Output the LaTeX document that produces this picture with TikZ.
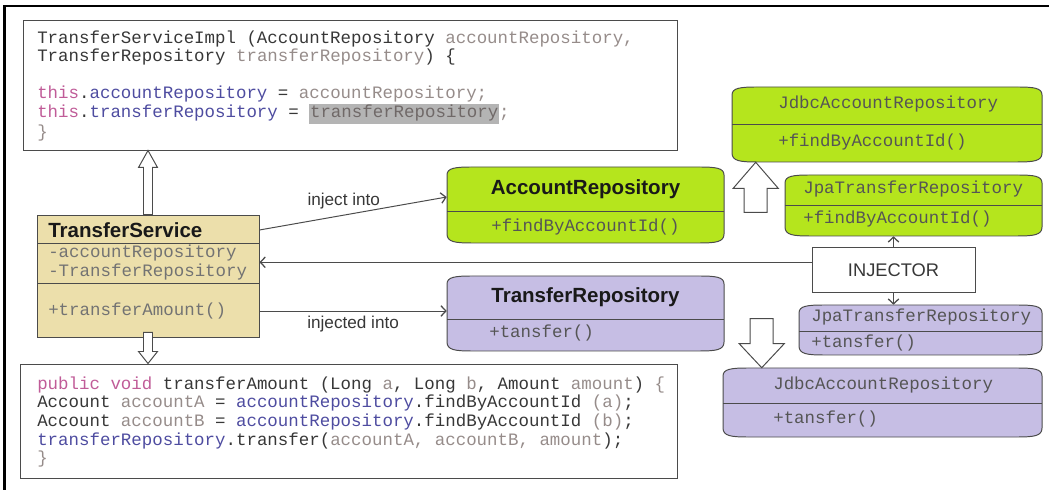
\documentclass[tikz,border=0pt]{standalone}
\usepackage{fontspec}
\setmainfont{Liberation Sans}
\setmonofont{Liberation Mono}
\usepackage{xcolor}
\usetikzlibrary{arrows.meta,positioning,calc,fit}
\definecolor{tanfill}{RGB}{236,223,171}
\definecolor{limefill}{RGB}{181,229,29}
\definecolor{lilacfill}{RGB}{198,190,228}
\definecolor{edge}{RGB}{75,75,75}
\definecolor{codetxt}{RGB}{55,55,55}
\definecolor{boxtxt}{RGB}{85,85,85}
\definecolor{codegray}{RGB}{150,140,138}
\definecolor{codeblue}{RGB}{78,76,160}
\definecolor{codepink}{RGB}{192,92,152}
\definecolor{hlgray}{RGB}{180,180,180}
\newcommand{\kwd}[1]{\textcolor{codepink}{#1}}
\newcommand{\fld}[1]{\textcolor{codeblue}{#1}}
\newcommand{\var}[1]{\textcolor{codegray}{#1}}
\newcommand{\hlt}[1]{{\fboxsep=0.5pt\colorbox{hlgray}{\strut\textcolor{codegray!75!black}{#1}}}}
% class box with bulging ends: name, x1, y1, x2, y2, split y, fill
\newcommand{\repobox}[7]{%
  \draw[edge, line width=0.7pt, fill=#7] (#2,#3+8) .. controls (#2,#3+1) and (#2+8,#3) .. (#2+25,#3)
    -- (#4-25,#3) .. controls (#4-8,#3) and (#4,#3+1) .. (#4,#3+8)
    -- (#4,#5-9) .. controls (#4,#5-1) and (#4-8,#5) .. (#4-25,#5)
    -- (#2+25,#5) .. controls (#2+8,#5) and (#2,#5-1) .. (#2,#5-9) -- cycle;
  \draw[edge, line width=0.7pt] (#2,#6) -- (#4,#6);
  \node[inner sep=0pt, fit={(#2,#3) (#4,#5)}] (#1) {};}
% hollow block arrow: base, tip, shaft half, head half, head length
\newcommand{\fatarrow}[5]{%
  \draw[hollow] ($#1+(-#3,0)$) -- ($#2+(-#3,#5)$) -- ($#2+(-#4,#5)$) -- #2
    -- ($#2+(#4,#5)$) -- ($#2+(#3,#5)$) -- ($#1+(#3,0)$) -- cycle;}

\begin{document}
\begin{tikzpicture}[x=0.025cm, y=-0.025cm,
  conn/.style={draw=edge, line width=0.7pt, -{Straight Barb[length=3.5pt,width=7.5pt,line width=0.9pt]}},
  hollow/.style={draw=edge, fill=white, line width=0.7pt},
  mono/.style={font=\ttfamily\fontsize{12.4}{13.2}\selectfont, text=boxtxt, inner sep=0pt, anchor=west},
  codetext/.style={font=\ttfamily\fontsize{12.4}{13.2}\selectfont, text=codetxt, align=left, inner sep=0pt, anchor=west},
  heading/.style={font=\bfseries\fontsize{14.6}{16}\selectfont, text=black!90, inner sep=0pt},
  lbl/.style={font=\fontsize{12.2}{14}\selectfont, text=codetxt, inner sep=0pt}]
\useasboundingbox (0,0) rectangle (1049,490);
\draw[line width=2pt] (4.5,490) -- (4.5,6) -- (1049,6);

% ---- code of the constructor
\node[draw=edge, line width=0.7pt, fit={(23,20) (677,150)}, inner sep=0pt] (ctor) {};
\node[codetext] (ctor text) at (37,86)
  {TransferServiceImpl (AccountRepository \var{accountRepository,}\\
   TransferRepository \var{transferRepository}) \{\\[13.2pt]
   \kwd{this}.\fld{accountRepository} = \var{accountRepository;}\\
   \kwd{this}.\fld{transferRepository} = \hlt{transferRepository}\var{;}\\
   \var{\}}};

% ---- code of transferAmount
\node[draw=edge, line width=0.7pt, fit={(20,364) (677,478)}, inner sep=0pt] (body) {};
\node[codetext] (body text) at (37,422)
  {\kwd{public void} transferAmount (Long \var{a}, Long \var{b}, Amount \var{amount}) \var{\{}\\
   Account \var{accountA} = \fld{accountRepository}.findByAccountId \var{(a)};\\
   Account \var{accountB} = \fld{accountRepository}.findByAccountId \var{(b)};\\
   \fld{transferRepository}.transfer(\var{accountA, accountB, amount});\\
   \var{\}}};

% ---- TransferService
\node[draw=edge, line width=0.7pt, fill=tanfill, fit={(37,215) (259,337)}, inner sep=0pt] (svc) {};
\draw[edge, line width=0.7pt] (37,243) -- (259,243) (37,283) -- (259,283);
\node[heading, anchor=west] (svc title) at (48,230) {TransferService};
\node[mono, text=black!55] (svc attr1) at (48,253) {-accountRepository};
\node[mono, text=black!55] (svc attr2) at (48,272) {-TransferRepository};
\node[mono, text=black!55] (svc op) at (48,311) {+transferAmount()};

% ---- interfaces
\repobox{acc}{447}{167}{724}{243}{211}{limefill}
\node[heading] (acc title) at (585.5,189) {AccountRepository};
\node[mono] (acc op) at (491,227) {+findByAccountId()};
\repobox{trf}{447}{276}{724}{351}{319}{lilacfill}
\node[heading] (trf title) at (585.5,297) {TransferRepository};
\node[mono] (trf op) at (489,333) {+tansfer()};

% ---- implementations
\repobox{jdbcA}{732}{87}{1042}{162}{124}{limefill}
\node[mono] (jdbcA title) at (778,104) {JdbcAccountRepository};
\node[mono] (jdbcA op) at (778,142) {+findByAccountId()};
\repobox{jpaA}{785}{175}{1042}{236}{205}{limefill}
\node[mono] (jpaA title) at (803,189) {JpaTransferRepository};
\node[mono] (jpaA op) at (803,219) {+findByAccountId()};
\repobox{jpaT}{799}{305}{1042}{355}{331}{lilacfill}
\node[mono] (jpaT title) at (811,317) {JpaTransferRepository};
\node[mono] (jpaT op) at (811,343) {+tansfer()};
\repobox{jdbcT}{723}{368}{1042}{437}{403}{lilacfill}
\node[mono] (jdbcT title) at (773,385) {JdbcAccountRepository};
\node[mono] (jdbcT op) at (773,419) {+tansfer()};

\node[draw=edge, fill=white, line width=0.7pt, minimum width=4.075cm, minimum height=1.1cm,
  inner sep=0pt, font=\fontsize{13}{15}\selectfont, text=codetxt] (inj) at (893.5,270) {INJECTOR};

% ---- connectors
\draw[conn] (svc title -| svc.east) -- ($(acc.west)+(0,-8)$)
  node[pos=0.45, above=4pt, lbl] (lbl inject) {inject into};
\draw[conn] (svc op -| svc.east) -- (svc op -| trf.west)
  node[midway, below=3pt, lbl] (lbl injected) {injected into};
\draw[conn] ([yshift=5.5pt]inj.west) -- ([yshift=5.5pt]inj.west -| svc.east);
\draw[conn] (inj.north) -- (inj.north |- jpaA.south);
\draw[conn] (inj.south) -- (inj.south |- jpaT.north);

% ---- hollow arrows
\coordinate (up tip) at (svc.north |- ctor.south);
\fatarrow{(svc.north)}{(up tip)}{4.5}{9.5}{17}
\coordinate (down base) at ($(svc.south)+(0,-5)$);
\coordinate (down tip) at (svc.south |- body.north);
\fatarrow{(down base)}{(down tip)}{4.5}{9.5}{-12}
\coordinate (gen tip) at ($(jdbcA.south west)+(24,0)$);
\coordinate (gen base) at ($(gen tip)+(0,50)$);
\fatarrow{(gen base)}{(gen tip)}{11.5}{22.5}{26}
\coordinate (spec tip) at ($(jdbcT.north west)+(39,0)$);
\coordinate (spec base) at ($(spec tip)+(0,-49)$);
\fatarrow{(spec base)}{(spec tip)}{11.5}{22.5}{-24}
\end{tikzpicture}
\end{document}
